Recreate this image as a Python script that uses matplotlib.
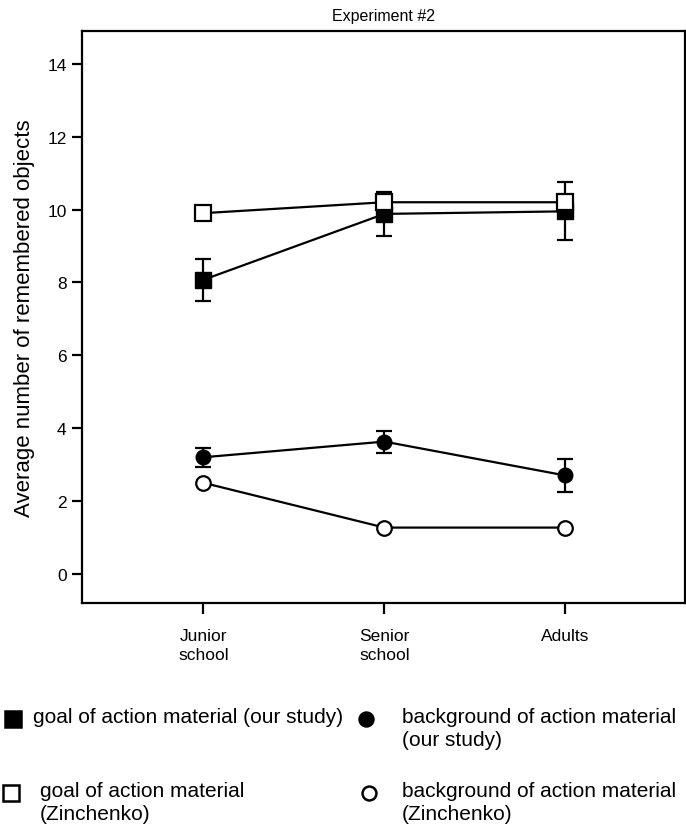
import matplotlib
matplotlib.use('Agg')
import matplotlib.pyplot as plt
from matplotlib.lines import Line2D

plt.rcParams['font.family'] = ['Liberation Sans', 'DejaVu Sans']

groups = ['Junior\nschool', 'Senior\nschool', 'Adults']
goal_ours = [8.07, 9.88, 9.95]
goal_ours_err = [0.58, 0.6, 0.8]
goal_zin = [9.9, 10.2, 10.2]
bg_ours = [3.2, 3.63, 2.7]
bg_ours_err = [0.26, 0.3, 0.45]
bg_zin = [2.5, 1.27, 1.27]

x = list(range(len(groups)))

fig = plt.figure(figsize=(6.86, 8.29), dpi=100)
ax = fig.add_axes([0.1195, 0.2714, 0.879, 0.69])

lw = 1.6
ax.errorbar(x, goal_ours, yerr=goal_ours_err, color='black', lw=lw, marker='s',
            ms=11.5, mfc='black', mec='black', capsize=6, capthick=lw, elinewidth=lw, zorder=2)
ax.plot(x, goal_zin, color='black', lw=lw, marker='s', ms=11.5, mfc='white',
        mec='black', mew=1.6, zorder=3)
ax.errorbar(x, bg_ours, yerr=bg_ours_err, color='black', lw=lw, marker='o',
            ms=10.5, mfc='black', mec='black', capsize=6, capthick=lw, elinewidth=lw, zorder=2)
ax.plot(x, bg_zin, color='black', lw=lw, marker='o', ms=10.5, mfc='white',
        mec='black', mew=1.6, zorder=3)

ax.set_xlim(-0.67, 2.66)
ax.set_ylim(-0.8, 14.9)
ax.set_yticks(range(0, 15, 2))
ax.set_xticks(x)
ax.set_xticklabels(groups, fontsize=12.5, linespacing=1.35)
ax.tick_params(axis='y', labelsize=12.5, width=1.6, length=7, pad=4)
ax.tick_params(axis='x', width=1.6, length=8, pad=10)
for s in ax.spines.values():
    s.set_linewidth(1.6)

ax.set_ylabel('Average number of remembered objects', fontsize=16, labelpad=9)
ax.set_title('Experiment #2', fontsize=11.5, pad=8)

# legend drawn below the axes
W, H = 686, 829
def fx(px):
    return px / W
def fy(py):
    return 1 - py / H

items = [
    (13, 720, 's', 'black', 33, 'goal of action material (our study)'),
    (366, 720, 'o', 'black', 402, 'background of action material\n(our study)'),
    (11, 794, 's', 'white', 40, 'goal of action material\n(Zinchenko)'),
    (369, 794, 'o', 'white', 402, 'background of action material\n(Zinchenko)'),
]
for mx, my, mk, fc, tx, label in items:
    fig.add_artist(Line2D([fx(mx)], [fy(my)], transform=fig.transFigure,
                          marker=mk, ms=11 if mk == 's' else 10, mfc=fc,
                          mec='black', mew=1.8, ls='none'))
    fig.text(fx(tx), fy(my - 12), label, fontsize=15, va='top', ha='left',
             linespacing=1.25)

fig.savefig('out.png', dpi=100)
